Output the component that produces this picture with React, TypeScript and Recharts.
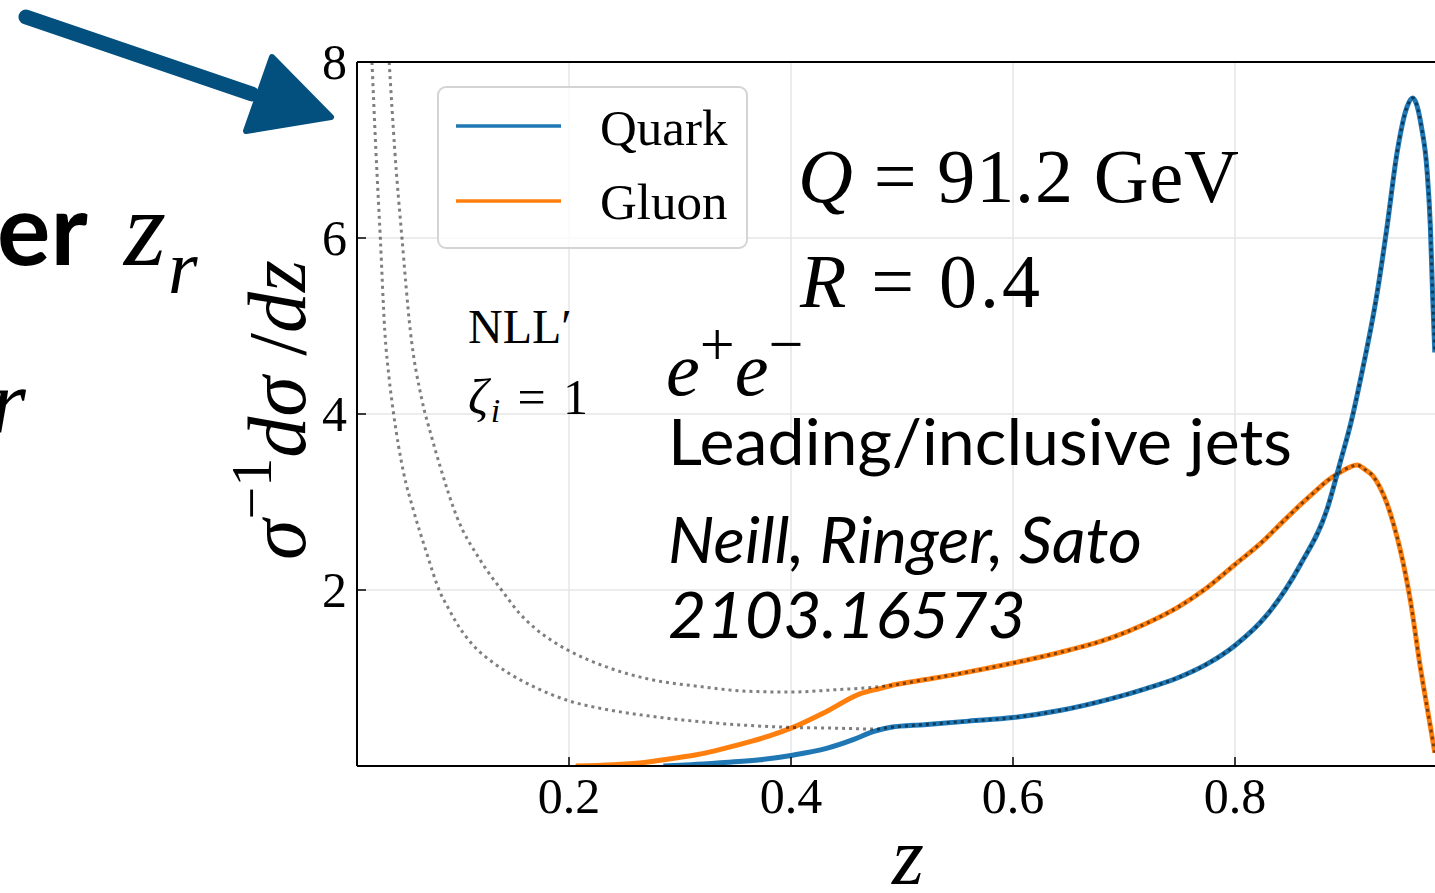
import React from 'react';
import { LineChart, Line, XAxis, YAxis, CartesianGrid, ReferenceLine, Legend } from 'recharts';

// axis ticks
const zTicks = [0.2, 0.4, 0.6, 0.8];
const yTicks = [2, 4, 6, 8];

// quark jets (MC, blue)
const quarkZ = [0.285, 0.31, 0.34, 0.372, 0.4, 0.432, 0.456, 0.474, 0.49, 0.52, 0.56, 0.6, 0.642, 0.687, 0.72, 0.748, 0.775, 0.8, 0.829, 0.859, 0.883, 0.895, 0.905, 0.913, 0.928, 0.937, 0.946, 0.955, 0.96, 0.968, 0.973, 0.976, 0.978, 0.98];
const quarkV = [0, 0.015, 0.04, 0.07, 0.12, 0.2, 0.3, 0.39, 0.44, 0.47, 0.51, 0.55, 0.63, 0.76, 0.88, 1.0, 1.16, 1.37, 1.72, 2.29, 2.92, 3.46, 3.93, 4.39, 5.37, 6.13, 6.97, 7.49, 7.59, 7.26, 6.77, 6.13, 5.37, 4.7];

// gluon jets (MC, orange)
const gluonZ = [0.206, 0.24, 0.268, 0.29, 0.316, 0.34, 0.364, 0.38, 0.4, 0.432, 0.462, 0.48, 0.492, 0.52, 0.552, 0.6, 0.642, 0.687, 0.72, 0.748, 0.772, 0.8, 0.823, 0.845, 0.859, 0.873, 0.883, 0.895, 0.904, 0.91, 0.917, 0.924, 0.93, 0.937, 0.943, 0.949, 0.958, 0.967, 0.976, 0.98];
const gluonV = [0, 0.015, 0.04, 0.08, 0.13, 0.2, 0.28, 0.34, 0.43, 0.62, 0.82, 0.88, 0.92, 0.98, 1.05, 1.17, 1.29, 1.45, 1.62, 1.8, 2.0, 2.29, 2.53, 2.8, 2.97, 3.13, 3.24, 3.34, 3.4, 3.42, 3.37, 3.3, 3.18, 2.98, 2.74, 2.45, 1.88, 1.12, 0.45, 0.15];

// NLL' zeta_i = 1 (dotted)
const quarkNllZ = [0.0225, 0.026, 0.03, 0.034, 0.038, 0.042, 0.051, 0.06, 0.071, 0.084, 0.091, 0.098, 0.106, 0.113, 0.122, 0.13, 0.145, 0.17, 0.2, 0.235, 0.271, 0.33, 0.396, 0.44, 0.476, 0.49, 0.52, 0.56, 0.6, 0.642, 0.687, 0.72, 0.748, 0.775, 0.8, 0.829, 0.859, 0.883, 0.895, 0.905, 0.913, 0.928, 0.937, 0.946, 0.955, 0.96, 0.968, 0.973, 0.976, 0.978, 0.98];
const quarkNllV = [8.0, 7.0, 6.0, 4.95, 4.4, 4.0, 3.33, 2.9, 2.45, 1.97, 1.8, 1.64, 1.49, 1.38, 1.27, 1.19, 1.06, 0.89, 0.74, 0.64, 0.57, 0.49, 0.44, 0.43, 0.42, 0.44, 0.47, 0.51, 0.55, 0.63, 0.76, 0.88, 1.0, 1.16, 1.37, 1.72, 2.29, 2.92, 3.46, 3.93, 4.39, 5.37, 6.13, 6.97, 7.49, 7.59, 7.26, 6.77, 6.13, 5.37, 4.7];
const gluonNllZ = [0.038, 0.043, 0.0495, 0.057, 0.0675, 0.076, 0.084, 0.099, 0.12, 0.141, 0.155, 0.168, 0.185, 0.2, 0.235, 0.271, 0.32, 0.36, 0.4, 0.444, 0.47, 0.492, 0.52, 0.552, 0.6, 0.642, 0.687, 0.72, 0.748, 0.772, 0.8, 0.823, 0.845, 0.859, 0.873, 0.883, 0.895, 0.904, 0.91, 0.917, 0.924, 0.93, 0.937, 0.943, 0.949, 0.958, 0.967, 0.976, 0.98];
const gluonNllV = [8.0, 7.0, 6.0, 4.95, 4.16, 3.75, 3.4, 2.83, 2.34, 1.97, 1.74, 1.58, 1.42, 1.31, 1.12, 0.99, 0.9, 0.85, 0.84, 0.87, 0.89, 0.92, 0.98, 1.05, 1.17, 1.29, 1.45, 1.62, 1.8, 2.0, 2.29, 2.53, 2.8, 2.97, 3.13, 3.24, 3.34, 3.4, 3.42, 3.37, 3.3, 3.18, 2.98, 2.74, 2.45, 1.88, 1.12, 0.45, 0.15];

const pairs = (zs: number[], vs: number[]) => zs.map((z, i) => ({ z, v: vs[i] }));

const BLUE = '#1f77b4';
const ORANGE = '#ff7f0e';
const SERIF = '"Liberation Serif", "DejaVu Serif", serif';
const SANS = 'Lato, "Open Sans", sans-serif';

const XTick = (props: any) => {
  const { x, y, payload } = props;
  return (
    <g>
      <line x1={x} x2={x} y1={y} y2={y - 9} stroke="#000" strokeWidth={1.5} />
      <text x={x} y={y + 47} textAnchor="middle" fontFamily={SERIF} fontSize={50} fill="#000">
        {payload.value}
      </text>
    </g>
  );
};

const YTick = (props: any) => {
  const { x, y, payload } = props;
  return (
    <g>
      <line x1={x} x2={x + 9} y1={y} y2={y} stroke="#000" strokeWidth={1.5} />
      <text x={x - 10} y={y + 17} textAnchor="end" fontFamily={SERIF} fontSize={50} fill="#000">
        {payload.value}
      </text>
    </g>
  );
};

const LegendBox = () => (
  <svg width={312} height={164} style={{ display: 'block' }}>
    <rect x={1} y={1} width={309} height={161} rx={8} fill="rgba(255,255,255,0.8)" stroke="#d4d4d4" strokeWidth={2} />
    <line x1={19} x2={124} y1={40} y2={40} stroke={BLUE} strokeWidth={3.5} />
    <line x1={19} x2={124} y1={115} y2={115} stroke={ORANGE} strokeWidth={3.5} />
    <text x={163} y={59} fontFamily={SERIF} fontSize={51} fill="#000">Quark</text>
    <text x={163} y={133} fontFamily={SERIF} fontSize={51} fill="#000">Gluon</text>
  </svg>
);

export default function App() {
  return (
    <div style={{ position: 'absolute', left: 0, top: 0, width: 1435, height: 893, overflow: 'hidden', background: '#fff' }}>
      <LineChart width={1500} height={893} margin={{ top: 62, right: 43, left: 297, bottom: 67 }}>
        <CartesianGrid stroke="#e6e6e6" strokeWidth={1.5} />
        <XAxis
          type="number"
          dataKey="z"
          domain={[0.009, 1.0]}
          ticks={zTicks}
          allowDataOverflow
          height={60}
          tickSize={0}
          tickMargin={0}
          tickLine={false}
          axisLine={{ stroke: '#000', strokeWidth: 2 }}
          tick={<XTick />}
          interval={0}
        />
        <YAxis
          type="number"
          domain={[0, 8]}
          ticks={yTicks}
          allowDataOverflow
          width={60}
          tickSize={0}
          tickMargin={0}
          tickLine={false}
          axisLine={{ stroke: '#000', strokeWidth: 2 }}
          tick={<YTick />}
          interval={0}
        />
        <ReferenceLine y={8} stroke="#000" strokeWidth={2} ifOverflow="visible" />
        <Legend
          layout="horizontal"
          verticalAlign="middle"
          align="center"
          wrapperStyle={{ position: 'absolute', left: 437, top: 86, width: 312, height: 164 }}
          content={() => <LegendBox />}
        />
        <Line data={pairs(gluonZ, gluonV)} dataKey="v" type="monotone" stroke={ORANGE} strokeWidth={5} dot={false} isAnimationActive={false} name="Gluon" />
        <Line data={pairs(quarkZ, quarkV)} dataKey="v" type="monotone" stroke={BLUE} strokeWidth={5} dot={false} isAnimationActive={false} name="Quark" />
        <Line data={pairs(gluonNllZ, gluonNllV)} dataKey="v" type="monotone" stroke="#000" strokeOpacity={0.5} strokeWidth={3} strokeDasharray="3 4" dot={false} isAnimationActive={false} legendType="none" />
        <Line data={pairs(quarkNllZ, quarkNllV)} dataKey="v" type="monotone" stroke="#000" strokeOpacity={0.5} strokeWidth={3} strokeDasharray="3 4" dot={false} isAnimationActive={false} legendType="none" />
      </LineChart>

      <svg width={1435} height={893} style={{ position: 'absolute', left: 0, top: 0, pointerEvents: 'none' }}>
        {/* arrow */}
        <path d="M26,17 L252,94" stroke="#03507f" strokeWidth={15} strokeLinecap="round" />
        <path d="M272,57 L331,117 L246,131 Z" fill="#03507f" stroke="#03507f" strokeWidth={6} strokeLinejoin="round" />

        {/* cropped slide text on the left */}
        <text x={-3} y={265} fontFamily={SANS} fontWeight={700} fontSize={100} fill="#000">er</text>
        <text x={124} y={265} fontFamily={SERIF} fontStyle="italic" fontSize={108} fill="#000">z</text>
        <text x={168} y={293} fontFamily={SERIF} fontStyle="italic" fontSize={76} fill="#000">r</text>
        <text x={-10} y={432} fontFamily={SERIF} fontStyle="italic" fontSize={92} fill="#000">r</text>

        {/* y label */}
        <text transform="translate(305,410) rotate(-90)" textAnchor="middle" fontFamily={SERIF} fontSize={82} fill="#000">
          <tspan fontStyle="italic">σ</tspan>
          <tspan fontSize={58} dy={-34}>−1</tspan>
          <tspan dy={34} fontStyle="italic">dσ</tspan>
          <tspan> /</tspan>
          <tspan fontStyle="italic">dz</tspan>
        </text>

        {/* x label */}
        <text x={908} y={884} textAnchor="middle" fontFamily={SERIF} fontStyle="italic" fontSize={82} fill="#000">z</text>

        {/* annotations */}
        <text x={468} y={343} fontFamily={SERIF} fontSize={48} fill="#000">NLL′</text>
        <text x={468} y={414} fontFamily={SERIF} fontSize={50} fill="#000" textLength={120} lengthAdjust="spacing">
          <tspan fontStyle="italic">ζ</tspan>
          <tspan fontStyle="italic" fontSize={34} dy={8}>i</tspan>
          <tspan dy={-8}> = 1</tspan>
        </text>

        <text x={798} y={202} fontFamily={SERIF} fontSize={76} fill="#000" textLength={441} lengthAdjust="spacing">
          <tspan fontStyle="italic">Q</tspan> = 91.2 GeV
        </text>
        <text x={800} y={307} fontFamily={SERIF} fontSize={76} fill="#000" textLength={240} lengthAdjust="spacing">
          <tspan fontStyle="italic">R</tspan> = 0.4
        </text>

        <text x={666} y={395} fontFamily={SERIF} fontSize={76} fill="#000">
          <tspan fontStyle="italic">e</tspan>
          <tspan fontSize={62} dy={-30}>+</tspan>
          <tspan fontStyle="italic" dy={30}>e</tspan>
          <tspan fontSize={62} dy={-30}>−</tspan>
        </text>

        <text x={668} y={465} fontFamily={SANS} fontSize={64} fill="#000" textLength={624} lengthAdjust="spacingAndGlyphs">
          Leading/inclusive jets
        </text>
        <text x={668} y={563} fontFamily={SANS} fontStyle="italic" fontSize={64} fill="#000" textLength={474} lengthAdjust="spacingAndGlyphs">
          Neill, Ringer, Sato
        </text>
        <text x={668} y={638} fontFamily={SANS} fontStyle="italic" fontSize={64} fill="#000" textLength={358} lengthAdjust="spacingAndGlyphs">
          2103.16573
        </text>
      </svg>
    </div>
  );
}
